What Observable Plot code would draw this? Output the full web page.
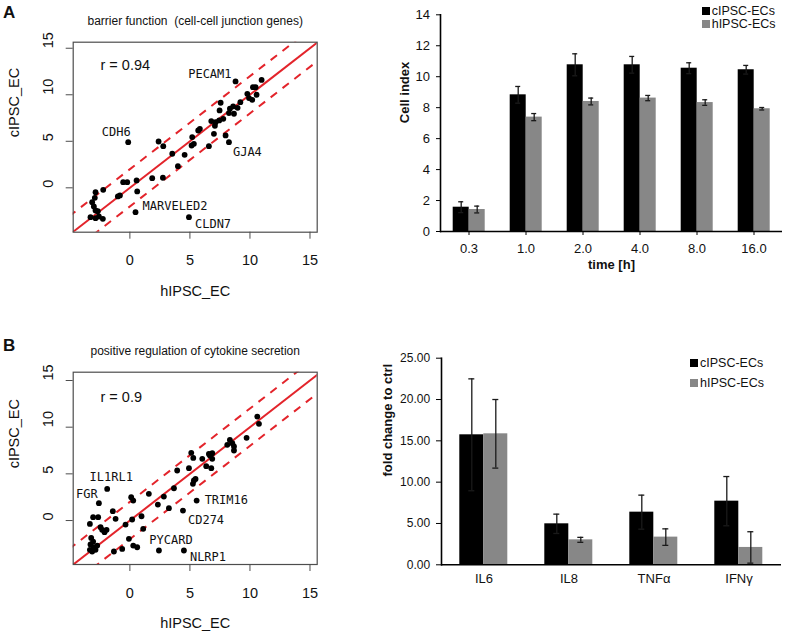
<!DOCTYPE html>
<html><head><meta charset="utf-8">
<script src="https://cdn.jsdelivr.net/npm/d3@7"></script>
<script src="https://cdn.jsdelivr.net/npm/@observablehq/plot@0.6"></script>
<style>
body{margin:0;background:#fff;}
#root{position:relative;width:787px;height:641px;overflow:hidden;font-family:"Liberation Sans",Arial,sans-serif;color:#111;}
.panel{position:absolute;}
.letter{position:absolute;font-weight:bold;font-size:17px;line-height:17px;}
.legend{position:absolute;font-size:12.5px;line-height:12px;}
.legend .row{display:flex;align-items:center;height:12px;white-space:nowrap;}
.legend .sw{width:8px;height:8px;margin-right:2px;flex:none;}
</style></head><body><div id="root"></div>
<script>
// ---------- Panel A (left): barrier function scatter ----------
const barrierTitle = "barrier function  (cell-cell junction genes)";
const barrierR = "r = 0.94";
const barrierH = [10.97,10.47,10.25,9.78,10.55,10.19,9.92,9.2,8.97,8.6,8.33,8.67,8.25,7.56,7.47,7.78,7.44,7.14,6.78,7.08,7.0,7.97,6.58,5.83,5.69,5.19,5.33,5.14,4.56,4.0,3.53,2.78,2.39,2.75,1.86,0.56,0.61,-0.22,-0.56,-0.83,-1.0,-2.22,-2.86,-2.92,-3.14,-3.0,-2.86,-2.67,-3.28,-2.86,-2.58,-2.25];
const barrierC = [11.6,10.82,10.82,10.1,10.0,9.46,9.64,9.2,8.6,8.75,8.5,7.96,8.03,9.14,8.32,7.42,7.24,7.06,7.17,6.67,5.8,5.63,4.48,6.34,6.16,5.45,4.73,4.55,3.55,2.33,3.66,4.48,4.98,1.08,1.04,0.79,-0.39,0.61,0.61,-0.82,-0.93,-0.22,-0.47,-1.08,-1.54,-2.0,-2.44,-2.51,-3.15,-3.26,-3.08,-3.33];
const barrierGenes = ["PECAM1","CDH6","GJA4","MARVELED2","CLDN7"];
const barrierGeneH = [8.8,-0.14,8.25,0.47,4.92];
const barrierGeneC = [11.43,4.91,4.91,-2.62,-3.15];

// ---------- Panel B (left): cytokine secretion scatter ----------
const cytoTitle = "positive regulation of cytokine secretion";
const cytoR = "r = 0.9";
const cytoH = [10.61,10.75,9.72,8.33,8.53,8.11,8.67,8.67,5.11,5.28,6.03,6.58,6.86,6.67,6.86,6.36,6.78,4.92,3.94,5.47,5.33,5.25,3.67,1.58,2.83,0.11,0.28,2.33,3.25,-1.42,-1.19,-3.06,-2.64,-3.33,-2.44,-2.31,-2.11,-1.94,-0.36,0.19,0.97,1.11,-0.08,0.28,0.61,-0.64,-1.33,-3.22,-3.06,-3.28,-3.0,-3.33,-2.86,-3.14,-2.72];
const cytoC = [11.14,10.36,8.86,8.64,8.29,8.11,7.93,7.5,7.25,6.71,6.61,7.14,7.21,6.96,6.61,5.82,5.61,5.61,5.36,4.46,4.29,3.93,3.46,2.86,2.57,2.5,2.14,1.71,1.32,1.0,0.18,0.36,0.36,-0.36,-0.71,-1.0,-1.25,-1.0,-0.43,0.11,0.46,-0.89,-1.96,-2.68,-2.86,-3.04,-3.32,-1.86,-2.25,-2.57,-2.86,-3.14,-3.14,-3.32,-2.68];
const cytoGenes = ["IL1RL1","FGR","TRIM16","CD274","PYCARD","NLRP1"];
const cytoGeneH = [-1.89,-2.58,5.56,4.42,2.42,4.5];
const cytoGeneC = [3.39,1.86,2.14,1.07,-3.21,-3.21];

const scatterTicks = [0, 5, 10, 15];
const refOffsets = [2, -2];

// ---------- Panel A (right): cell index bars ----------
const times = ["0.3","1.0","2.0","4.0","8.0","16.0"];
const cellC = [1.57, 8.83, 10.77, 10.77, 10.55, 10.45];
const cellCErr = [0.35, 0.54, 0.71, 0.54, 0.35, 0.28];
const cellH = [1.42, 7.39, 8.40, 8.62, 8.33, 7.93];
const cellHErr = [0.22, 0.23, 0.22, 0.17, 0.18, 0.08];
const cellTicks = [0,2,4,6,8,10,12,14];

// ---------- Panel B (right): fold change bars ----------
const cytokines = ["IL6","IL8","TNFα","IFNγ"];
const foldC = [15.73, 4.96, 6.37, 7.7];
const foldCErr = [6.77, 1.17, 2.06, 2.98];
const foldH = [15.85, 3.02, 3.35, 2.1];
const foldHErr = [4.15, 0.3, 1.0, 1.9];
const foldTicks = [0,5,10,15,20,25];

const seriesNames = ["cIPSC-ECs","hIPSC-ECs"];
const seriesColors = ["#000000","#878787"];

const RED = "#e3242b";
const SANS = "'Liberation Sans', Arial, sans-serif";
const MONO = "'DejaVu Sans Mono', monospace";

const root = document.getElementById("root");
function place(el, left, top) {
  const d = document.createElement("div");
  d.className = "panel";
  d.style.left = left + "px"; d.style.top = top + "px";
  d.appendChild(el); root.appendChild(d);
}

function scatter(o) {
  const pts = o.h.map((x, i) => ({x, y: o.c[i]}))
    .concat(o.gh.map((x, i) => ({x, y: o.gc[i]})));
  const xDomain = [-4.72, 15.6];
  const lo = -10, hi = 25;
  const labelMarks = o.genes.map((g, i) => {
    const s = o.offsets[g];
    return Plot.text([{g, x: o.gh[i], y: o.gc[i]}], {
      x: "x", y: "y", text: "g", dx: s[0], dy: s[1], textAnchor: s[2],
      fontFamily: MONO, fontSize: 12, fill: "#111"
    });
  });
  return Plot.plot({
    width: 380, height: o.height,
    marginTop: o.marginTop, marginBottom: o.marginBottom, marginLeft: 72.7, marginRight: 63.3,
    style: {fontFamily: SANS, background: "transparent", color: "#111", overflow: "visible"},
    x: {domain: xDomain, axis: null},
    y: {domain: o.yDomain, axis: null},
    marks: [
      Plot.link([0], {x1: () => lo, y1: d => lo + d, x2: () => hi, y2: d => hi + d,
        stroke: RED, strokeWidth: 2, clip: true}),
      Plot.link(refOffsets, {x1: () => lo, y1: d => lo + d, x2: () => hi, y2: d => hi + d,
        stroke: RED, strokeWidth: 2, strokeDasharray: "8,7", clip: true}),
      Plot.dot(pts, {x: "x", y: "y", r: 2.9, fill: "#000", stroke: null}),
      ...labelMarks,
      Plot.frame({stroke: "#4d4d4d", strokeWidth: 1.2}),
      Plot.axisX(scatterTicks, {tickSize: 7, tickPadding: 16, fontSize: 14.5, label: null, stroke: "#4d4d4d", tickFormat: d => String(d)}),
      Plot.axisY(scatterTicks, {tickSize: 7, tickFormat: () => "", label: null, stroke: "#4d4d4d"}),
      Plot.text(scatterTicks, {y: d => d, text: d => String(d), frameAnchor: "left", dx: -24.7, rotate: -90, fontSize: 14.5}),
      Plot.text([o.r], {frameAnchor: "top-left", dx: 27.3, dy: o.rDy, textAnchor: "start", fontSize: 14.5}),
      Plot.text(["hIPSC_EC"], {frameAnchor: "bottom", dy: 63.5, fontSize: 14.5}),
      Plot.text(["cIPSC_EC"], {frameAnchor: "left", dx: -58.7, rotate: -90, fontSize: 14.5}),
      Plot.text([o.title], {frameAnchor: "top", dy: -26, fontSize: 12})
    ]
  });
}

function bars(o) {
  const rows = o.cats.flatMap((cat, i) => [
    {cat, s: seriesNames[0], v: o.cv[i], e: o.ce[i]},
    {cat, s: seriesNames[1], v: o.hv[i], e: o.he[i]}
  ]);
  return Plot.plot({
    width: 407, height: o.height,
    marginTop: o.marginTop, marginBottom: o.marginBottom, marginLeft: o.marginLeft, marginRight: o.marginRight,
    style: {fontFamily: SANS, background: "transparent", color: "#111", overflow: "visible"},
    fx: {domain: o.cats, paddingInner: 0, paddingOuter: 0, label: null, axis: null},
    x: {domain: seriesNames, paddingInner: 0, paddingOuter: o.po, axis: null},
    y: {domain: [0, o.yMax], axis: null},
    color: {domain: seriesNames, range: seriesColors},
    marks: [
      Plot.barY(rows, {fx: "cat", x: "s", y: "v", fill: "s"}),
      Plot.ruleX(rows, {fx: "cat", x: "s", y1: d => d.v - d.e, y2: d => d.v + d.e, stroke: "#1a1a1a", strokeWidth: 1.3}),
      Plot.tickY(rows, {fx: "cat", x: "s", y: d => d.v + d.e, stroke: "#1a1a1a", strokeWidth: 1.3, insetLeft: o.capInset, insetRight: o.capInset}),
      Plot.tickY(rows, {fx: "cat", x: "s", y: d => d.v - d.e, stroke: "#1a1a1a", strokeWidth: 1.3, insetLeft: o.capInset, insetRight: o.capInset}),
      Plot.ruleY([0], {stroke: "#000", strokeWidth: 1.6}),
      Plot.frame({anchor: "left", facetAnchor: "left", stroke: "#000", strokeWidth: 1.6}),
      Plot.axisY(o.ticks, {tickSize: o.yTickSize, tickPadding: o.yTickPadding, fontSize: o.yFont, label: null, tickFormat: o.fmt, stroke: "#000"}),
      Plot.axisFx({anchor: "bottom", tickSize: o.xTickSize, tickPadding: o.xTickPadding, fontSize: 13, label: null, stroke: "#000"}),
      Plot.text([o.yLabel], {frameAnchor: "left", dx: o.yLabelDx, dy: o.yLabelDy, rotate: -90, fontWeight: "bold", fontSize: 13, facet: "super"}),
      ...(o.xLabel ? [Plot.text([o.xLabel], {frameAnchor: "bottom", dy: 37, fontWeight: "bold", fontSize: 13, facet: "super"})] : [])
    ]
  });
}

function legend(left, top, gap) {
  const L = document.createElement("div");
  L.className = "legend";
  L.style.left = left + "px"; L.style.top = top + "px";
  seriesNames.forEach((name, i) => {
    const r = document.createElement("div");
    r.className = "row";
    if (i > 0) r.style.marginTop = gap + "px";
    const sw = document.createElement("span");
    sw.className = "sw"; sw.style.background = seriesColors[i];
    const t = document.createElement("span");
    t.textContent = name;
    r.appendChild(sw); r.appendChild(t); L.appendChild(r);
  });
  root.appendChild(L);
}
function letter(txt, left, top) {
  const d = document.createElement("div");
  d.className = "letter"; d.textContent = txt;
  d.style.left = left + "px"; d.style.top = top + "px";
  root.appendChild(d);
}

place(scatter({
  h: barrierH, c: barrierC, genes: barrierGenes, gh: barrierGeneH, gc: barrierGeneC,
  offsets: {PECAM1: [-4, -7, "end"], CDH6: [-12, -10, "middle"], GJA4: [4, 10, "start"], MARVELED2: [7, -6, "start"], CLDN7: [6, 7, "start"]},
  title: barrierTitle, r: barrierR, yDomain: [-4.77, 15.65],
  height: 320, marginTop: 41.7, marginBottom: 88.3, rDy: 17.6
}), 0, 0);

place(scatter({
  h: cytoH, c: cytoC, genes: cytoGenes, gh: cytoGeneH, gc: cytoGeneC,
  offsets: {IL1RL1: [4, -12, "middle"], FGR: [-12, -9, "middle"], TRIM16: [8, 0, "start"], CD274: [5, 10, "start"], PYCARD: [12, -10, "middle"], NLRP1: [6, 7, "start"]},
  title: cytoTitle, r: cytoR, yDomain: [-4.71, 15.89],
  height: 311, marginTop: 41.7, marginBottom: 77, rDy: 19.7
}), 0, 330);

place(bars({
  cats: times, cv: cellC, ce: cellCErr, hv: cellH, he: cellHErr,
  yMax: 14, ticks: cellTicks, fmt: d => String(d), yFont: 13,
  height: 320, marginTop: 14.3, marginBottom: 89, marginLeft: 58.3, marginRight: 4,
  po: 0.742, capInset: 5.5, yTickSize: 4, yTickPadding: 6.5, xTickSize: 4, xTickPadding: 8,
  yLabel: "Cell index", yLabelDx: -35.3, yLabelDy: 0, xLabel: "time [h]"
}), 380, 0);

place(bars({
  cats: cytokines, cv: foldC, ce: foldCErr, hv: foldH, he: foldHErr,
  yMax: 25, ticks: foldTicks, fmt: d => d.toFixed(2), yFont: 12,
  height: 311, marginTop: 27.7, marginBottom: 76.7, marginLeft: 60.7, marginRight: 6.2,
  po: 0.77, capInset: 9, yTickSize: 5, yTickPadding: 6.4, xTickSize: 0, xTickPadding: 9,
  yLabel: "fold change to ctrl", yLabelDx: -53.4, yLabelDy: 15, xLabel: null
}), 380, 330);

legend(701.7, 5, 1);
legend(690, 356.7, 8);
letter("A", 3, 4);
letter("B", 3, 337);
</script>
</body></html>
